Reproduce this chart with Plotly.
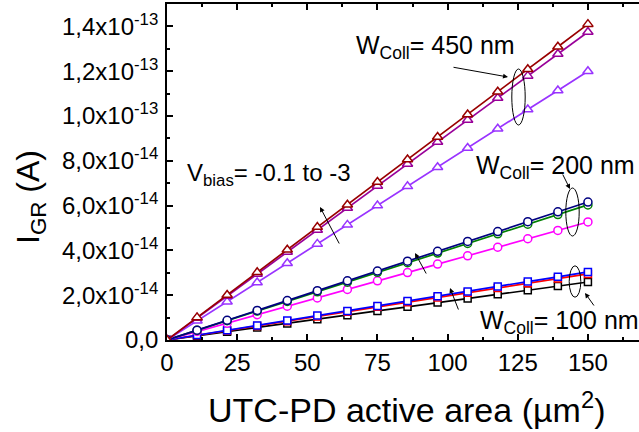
import plotly.graph_objects as go

# ---- data (x: µm², y: units of 1e-14 A) ----
area = [0, 10.71, 21.43, 32.14, 42.86, 53.57, 64.29, 75.0, 85.71, 96.43, 107.14, 117.86, 128.57, 139.29, 150.0]

w450_a = [0, 1.01, 2.01, 3.02, 4.03, 5.04, 6.04, 7.05, 8.06, 9.06, 10.07, 11.08, 12.09, 13.09, 14.10]
w450_b = [0, 0.98, 1.96, 2.95, 3.93, 4.91, 5.89, 6.88, 7.86, 8.84, 9.82, 10.80, 11.79, 12.77, 13.75]
w450_c = [0, 0.86, 1.71, 2.57, 3.43, 4.29, 5.14, 6.00, 6.86, 7.71, 8.57, 9.43, 10.29, 11.14, 12.00]

w200_a = [0, 0.44, 0.88, 1.32, 1.76, 2.20, 2.64, 3.08, 3.52, 3.96, 4.40, 4.84, 5.28, 5.72, 6.16]
w200_b = [0, 0.43, 0.86, 1.29, 1.72, 2.15, 2.58, 3.02, 3.45, 3.88, 4.31, 4.74, 5.17, 5.60, 6.03]
w200_c = [0, 0.38, 0.75, 1.13, 1.51, 1.88, 2.26, 2.64, 3.01, 3.39, 3.76, 4.14, 4.52, 4.89, 5.27]

w100_a = [0, 0.22, 0.43, 0.65, 0.87, 1.09, 1.30, 1.52, 1.74, 1.95, 2.17, 2.39, 2.61, 2.82, 3.04]
w100_b = [0, 0.21, 0.42, 0.63, 0.84, 1.05, 1.26, 1.48, 1.69, 1.90, 2.11, 2.32, 2.53, 2.74, 2.95]
w100_c = [0, 0.19, 0.37, 0.56, 0.74, 0.93, 1.11, 1.30, 1.48, 1.67, 1.85, 2.04, 2.22, 2.41, 2.59]

y_tickvals = [0, 2, 4, 6, 8, 10, 12, 14]
y_ticktext = ["0,0", "2,0x10<sup>-14</sup>", "4,0x10<sup>-14</sup>", "6,0x10<sup>-14</sup>",
              "8,0x10<sup>-14</sup>", "1,0x10<sup>-13</sup>", "1,2x10<sup>-13</sup>", "1,4x10<sup>-13</sup>"]
y_minor = [1, 3, 5, 7, 9, 11, 13]

FONT = "Arial, Liberation Sans, sans-serif"
W, H = 639, 432
ML, MR, MT, MB = 167, 0, 4, 92
PW, PH = W - ML - MR, H - MT - MB

def px(x):
    return (x - ML) / PW

def py(y):
    return (H - MB - y) / PH

series = [
    (w100_c, "#000000", "square", 7),
    (w100_b, "#FF0000", "square", 7),
    (w100_a, "#0000FF", "square", 7),
    (w200_c, "#FF00FF", "circle", 8),
    (w200_b, "#008000", "circle", 8),
    (w200_a, "#000080", "circle", 8),
    (w450_c, "#9933FF", "triangle-up", 9),
    (w450_b, "#990099", "triangle-up", 9),
    (w450_a, "#990000", "triangle-up", 9),
]

fig = go.Figure()
for ys, col, sym, sz in series:
    fig.add_trace(go.Scatter(
        x=area, y=ys, mode="lines+markers",
        line=dict(color=col, width=1.7),
        marker=dict(symbol=sym, size=sz, color="white", line=dict(color=col, width=1.5)),
        showlegend=False))

annotations = []
def label(text, x, y, size=25):
    annotations.append(dict(text=text, x=px(x), y=py(y), xref="paper", yref="paper",
                            xanchor="left", yanchor="middle", showarrow=False,
                            font=dict(family=FONT, size=size, color="black")))

label("W<sub>Coll</sub>= 450 nm", 354, 47)
label("W<sub>Coll</sub>= 200 nm", 474, 167)
label("W<sub>Coll</sub>= 100 nm", 478, 322)
label("V<sub>bias</sub>= -0.1 to -3", 185, 174, 24)

def arrow(hx, hy, tx, ty):
    annotations.append(dict(text="", x=px(hx), y=py(hy), xref="paper", yref="paper",
                            ax=tx - hx, ay=ty - hy, showarrow=True,
                            arrowhead=2, arrowsize=1, arrowwidth=1, arrowcolor="black"))

arrow(508, 77, 452, 67)
arrow(570, 189, 562, 173)
arrow(585, 293, 595, 307)
arrow(320, 207, 340, 245)
arrow(415, 253, 427, 275)
arrow(450, 288, 459, 311)

# axis titles
annotations.append(dict(text="UTC-PD active area (µm<sup>2</sup>)", x=px(406), y=py(407),
                        xref="paper", yref="paper", xanchor="center", yanchor="middle",
                        showarrow=False, font=dict(family=FONT, size=34, color="black")))
annotations.append(dict(text="I<sub>GR</sub> (A)", x=px(30), y=py(197), textangle=-90,
                        xref="paper", yref="paper", xanchor="center", yanchor="middle",
                        showarrow=False, font=dict(family=FONT, size=32, color="black")))

shapes = []
def ellipse(cx, cy, rx, ry):
    shapes.append(dict(type="circle", xref="paper", yref="paper",
                       x0=px(cx - rx), x1=px(cx + rx), y0=py(cy + ry), y1=py(cy - ry),
                       line=dict(color="black", width=1)))

ellipse(518.5, 97, 6.7, 28)
ellipse(572.5, 212, 6.7, 24)
ellipse(575, 281.5, 5.8, 15.7)

fig.update_layout(
    width=W, height=H,
    margin=dict(l=ML, r=MR, t=MT, b=MB, pad=0),
    paper_bgcolor="white", plot_bgcolor="white",
    font=dict(family=FONT, color="black"),
    annotations=annotations, shapes=shapes,
    xaxis=dict(range=[0, 168.2], tickmode="linear", tick0=0, dtick=25,
               ticks="inside", ticklen=6, tickwidth=1.5, tickcolor="black",
               minor=dict(ticks="inside", ticklen=3, dtick=12.5, tick0=0, tickcolor="black", tickwidth=1.5),
               showline=True, linecolor="black", linewidth=1.8, mirror="allticks",
               showgrid=False, zeroline=False,
               tickfont=dict(family=FONT, size=24, color="black")),
    yaxis=dict(range=[0, 15], tickmode="array", tickvals=y_tickvals, ticktext=y_ticktext,
               ticks="inside", ticklen=6, tickwidth=1.5, tickcolor="black",
               minor=dict(ticks="inside", ticklen=3, tickvals=y_minor, tickcolor="black", tickwidth=1.5),
               showline=True, linecolor="black", linewidth=1.8, mirror=False,
               showgrid=False, zeroline=False, ticklabelstandoff=2,
               tickfont=dict(family=FONT, size=24, color="black")),
)

fig.write_html("out.html", config={"displayModeBar": False},
               post_script="document.body.style.margin='0px';document.body.style.overflow='hidden';")
